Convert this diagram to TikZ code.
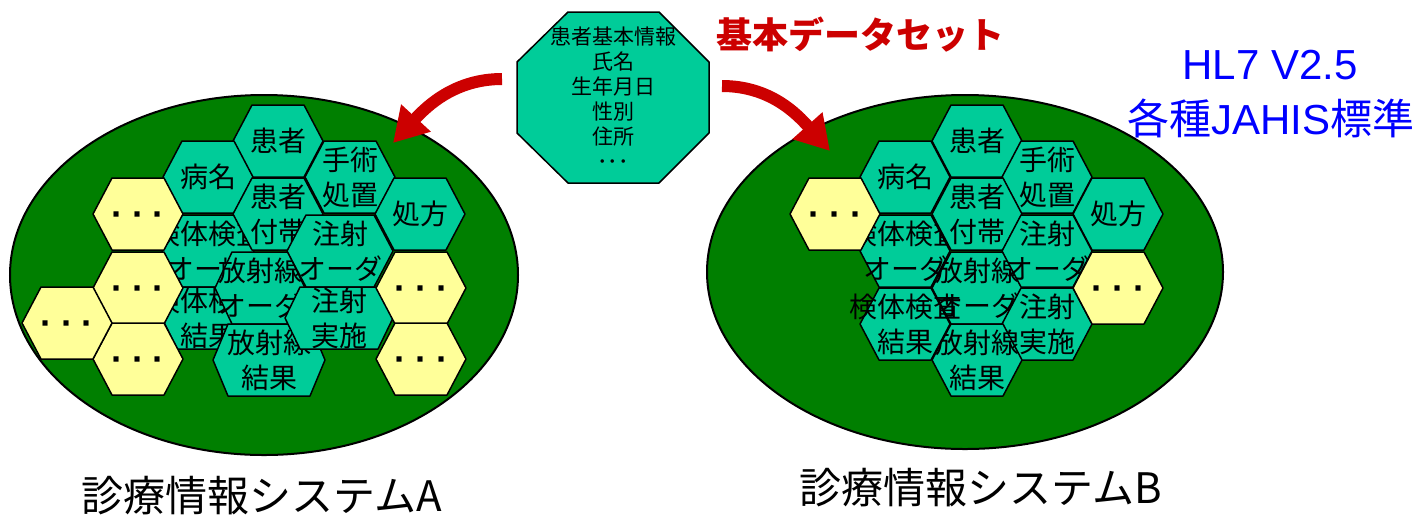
\documentclass[tikz,border=0pt]{standalone}
\usepackage{fontspec}
\setmainfont{Liberation Sans}
\newfontfamily\cjk{Noto Sans CJK JP}
\usetikzlibrary{arrows.meta}
\definecolor{tealA}{HTML}{00CC99}
\definecolor{dkgreen}{HTML}{007F00}
\definecolor{yelA}{HTML}{FFFF99}
\definecolor{redA}{HTML}{CC0000}
\definecolor{blueA}{HTML}{0000FF}
\tikzset{
  hexline/.style={draw=black, line width=1.5pt, line join=round},
  hextext/.style={font=\cjk\fontsize{28}{35}\selectfont, align=center, inner sep=0pt},
  dotstext/.style={font=\bfseries\fontsize{36}{36}\selectfont, inner sep=0pt, anchor=base},
  ellipseline/.style={draw=black, line width=2pt, fill=dkgreen},
  redarr/.style={draw=redA, line width=12pt, -{Triangle[length=34pt,width=38pt]}},
}
% name cx cy hw hh slant fill text
\newcommand\hexa[8]{%
  \draw[hexline, fill=#7] ({#2-#4},#3) -- ({#2-#4+#6},{#3-#5}) -- ({#2+#4-#6},{#3-#5}) -- ({#2+#4},#3) -- ({#2+#4-#6},{#3+#5}) -- ({#2-#4+#6},{#3+#5}) -- cycle;
  \node[hextext] (#1) at (#2,#3) {#8};
}
\newcommand\yhex[3]{%
  \draw[hexline, fill=yelA] ({#2-45},#3) -- ({#2-26},{#3-36}) -- ({#2+26},{#3-36}) -- ({#2+45},#3) -- ({#2+26},{#3+36}) -- ({#2-26},{#3+36}) -- cycle;
  \node[dotstext] (#1) at (#2,{#3+12}) {·\hspace{9pt}·\hspace{9pt}·};
}
\begin{document}
\begin{tikzpicture}[x=1pt,y=-1pt]
\useasboundingbox (0,0) rectangle (1420,515);

% ===== System A =====
\draw[ellipseline] (264,275) ellipse [x radius=254pt, y radius=180pt];
\hexa{a1}{278}{141}{45}{36}{19}{tealA}{患者}
\hexa{a2}{208}{177}{45}{36}{19}{tealA}{病名}
\hexa{a3}{350}{177}{45}{36}{19}{tealA}{手術\\処置}
\hexa{a4}{420}{214}{45}{36}{19}{tealA}{処方}
\hexa{a5}{208}{251}{46}{36}{19}{tealA}{検体検査\\オーダ}
\hexa{a6}{208}{318}{46}{31}{15}{tealA}{検体検査\\結果}
\hexa{a7}{278}{214}{45}{36}{19}{tealA}{患者\\付帯}
\hexa{a8}{260}{288}{45}{36}{17}{tealA}{放射線\\オーダ}
\hexa{a9}{340}{251}{53}{36}{19}{tealA}{注射\\オーダ}
\hexa{a10}{269}{360}{56}{36}{15}{tealA}{放射線\\結果}
\hexa{a11}{339}{318}{54}{31}{15}{tealA}{注射\\実施}
\yhex{ay1}{138}{214}
\yhex{ay2}{138}{288}
\yhex{ay3}{138}{359}
\yhex{ay4}{67}{323}
\yhex{ay5}{421}{288}
\yhex{ay6}{421}{359}

% ===== System B =====
\draw[ellipseline] (965,272) ellipse [x radius=258pt, y radius=177pt];
\hexa{b1}{977}{141}{45}{36}{19}{tealA}{患者}
\hexa{b2}{905}{177}{45}{36}{19}{tealA}{病名}
\hexa{b3}{1047}{177}{45}{36}{19}{tealA}{手術\\処置}
\hexa{b4}{1118}{214}{45}{36}{19}{tealA}{処方}
\hexa{b5}{977}{288}{45}{36}{19}{tealA}{放射線\\オーダ}
\hexa{b6}{905}{251}{45}{36}{19}{tealA}{検体検査\\オーダ}
\hexa{b7}{977}{214}{45}{36}{19}{tealA}{患者\\付帯}
\hexa{b8}{1047}{251}{45}{36}{19}{tealA}{注射\\オーダ}
\hexa{b9}{1047}{324}{45}{36}{19}{tealA}{注射\\実施}
\hexa{b10}{977}{360}{45}{36}{19}{tealA}{放射線\\結果}
\hexa{b11}{905}{324}{45}{36}{19}{tealA}{検体検査\\結果}
\yhex{by1}{835}{214}
\yhex{by2}{1118}{288}

% ===== Octagon =====
\draw[hexline, fill=tealA] (568,12) -- (659,12) -- (709,62) -- (709,133) -- (659,183) -- (568,183) -- (517,133) -- (517,62) -- cycle;
\node[font=\cjk\fontsize{21}{25}\selectfont, align=center, inner sep=0pt] (oct) at (613,98) {患者基本情報\\氏名\\生年月日\\性別\\住所\\･･･};

% ===== Arrows =====
\coordinate (la0) at (502,79);
\coordinate (la1) at (393,143);
\draw[redarr] (la0) .. controls (455,79) and (427,106) .. (la1);
\coordinate (ra0) at (722,86);
\coordinate (ra1) at (830,151);
\draw[redarr] (ra0) .. controls (770,86) and (797,114) .. (ra1);

% ===== Labels =====
\node[font=\cjk\bfseries\fontsize{36}{40}\selectfont, text=redA, inner sep=0pt] (title) at (860,35) {基本データセット};
\node[font=\fontsize{42}{46}\selectfont, text=blueA, inner sep=0pt] (hl7) at (1270,65) {HL7 V2.5};
\node[font=\fontsize{42}{46}\selectfont, text=blueA, inner sep=0pt] (jahis) at (1271,118) {{\cjk 各種}JAHIS{\cjk 標準}};
\node[font=\cjk\fontsize{42}{46}\selectfont, inner sep=0pt] (sysA) at (262,496) {診療情報システムA};
\node[font=\cjk\fontsize{42}{46}\selectfont, inner sep=0pt] (sysB) at (981,488) {診療情報システムB};
\end{tikzpicture}
\end{document}
